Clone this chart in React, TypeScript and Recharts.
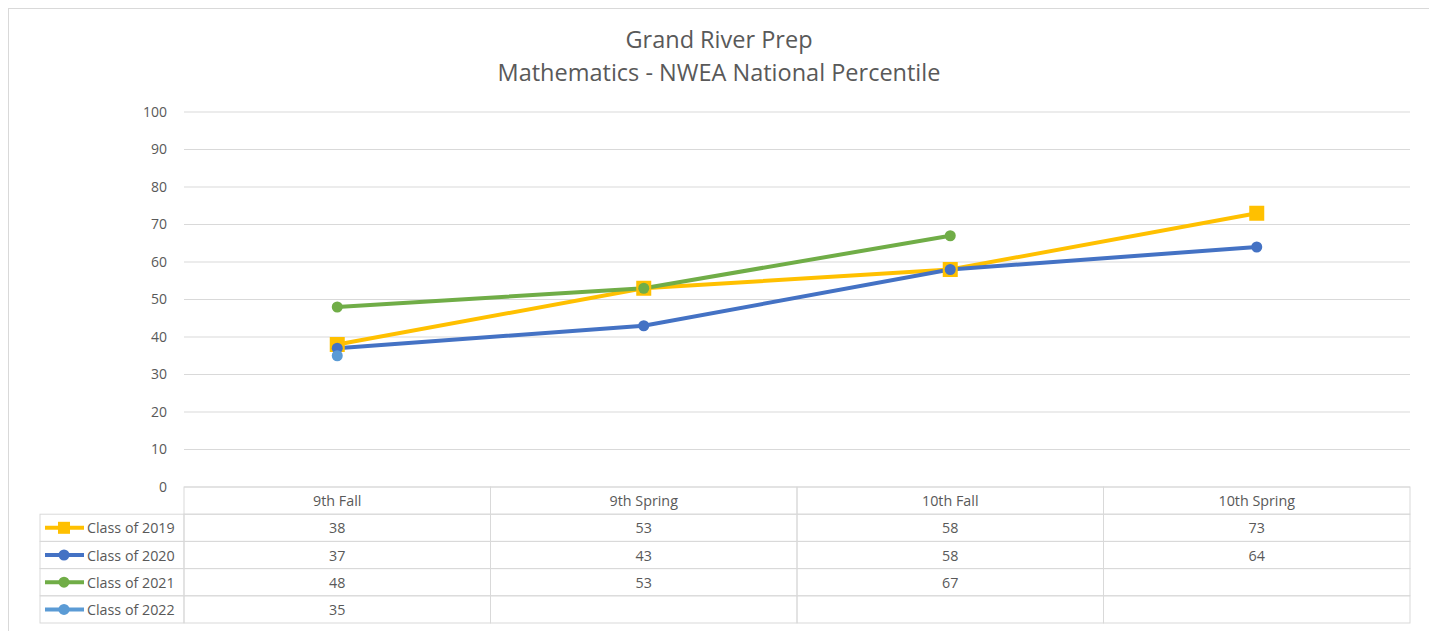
import React from "react";
import { LineChart, Line, CartesianGrid, XAxis, YAxis } from "recharts";

const terms = ["9th Fall", "9th Spring", "10th Fall", "10th Spring"];
const class2019 = [38, 53, 58, 73];
const class2020 = [37, 43, 58, 64];
const class2021 = [48, 53, 67, null];
const class2022 = [35, null, null, null];
const yTicks = [0, 10, 20, 30, 40, 50, 60, 70, 80, 90, 100];

const series = [
  { key: "c2019", name: "Class of 2019", values: class2019, color: "#FFC000", square: true },
  { key: "c2020", name: "Class of 2020", values: class2020, color: "#4472C4", square: false },
  { key: "c2021", name: "Class of 2021", values: class2021, color: "#70AD47", square: false },
  { key: "c2022", name: "Class of 2022", values: class2022, color: "#5B9BD5", square: false },
];

const data = terms.map((term, i) => {
  const row: any = { term };
  series.forEach((s) => {
    row[s.key] = s.values[i];
  });
  return row;
});

const W = 1420;
const H = 620;
const Y_AXIS_W = 175;
const MARGIN_RIGHT = 19;
const COL_W = (W - Y_AXIS_W - MARGIN_RIGHT) / terms.length;
const ROW_H = 27.2;
const LEG_W = 144;
const GRID = "#d9d9d9";
const TEXT = "#595959";
const FONT = "'Open Sans', sans-serif";

const SquareDot = (props: any) => {
  const { cx, cy, stroke } = props;
  if (cx == null || cy == null) return null;
  return <rect x={cx - 7.5} y={cy - 7.5} width={15} height={15} fill={stroke} />;
};

// one column of the data table per category tick; first tick also draws the legend column
const TableTick = (props: any) => {
  const { x, y, payload, index } = props;
  const left = x - COL_W / 2;
  return (
    <g fontFamily={FONT} fontSize={14.3} fill={TEXT}>
      <rect x={left} y={y} width={COL_W} height={ROW_H} fill="none" stroke={GRID} />
      <text x={x} y={y + ROW_H / 2} textAnchor="middle" dominantBaseline="central" fill={TEXT}>
        {payload.value}
      </text>
      {series.map((s, i) => {
        const v = s.values[index];
        const ry = y + (i + 1) * ROW_H;
        return (
          <g key={s.key}>
            <rect x={left} y={ry} width={COL_W} height={ROW_H} fill="none" stroke={GRID} />
            {v != null && (
              <text x={x} y={ry + ROW_H / 2} textAnchor="middle" dominantBaseline="central" fill={TEXT}>
                {v}
              </text>
            )}
          </g>
        );
      })}
      {index === 0 &&
        series.map((s, i) => {
          const ry = y + (i + 1) * ROW_H;
          const lx = left - LEG_W;
          const cy = ry + ROW_H / 2;
          return (
            <g key={"leg" + s.key}>
              <rect x={lx} y={ry} width={LEG_W} height={ROW_H} fill="none" stroke={GRID} />
              <line x1={lx + 5} x2={lx + 44} y1={cy} y2={cy} stroke={s.color} strokeWidth={4} />
              {s.square ? (
                <rect x={lx + 18} y={cy - 6} width={12} height={12} fill={s.color} />
              ) : (
                <circle cx={lx + 24} cy={cy} r={5.5} fill={s.color} />
              )}
              <text x={lx + 47} y={cy} dominantBaseline="central" fill={TEXT}>
                {s.name}
              </text>
            </g>
          );
        })}
    </g>
  );
};

export default function App() {
  return (
    <div
      style={{
        position: "relative",
        width: W,
        height: 625,
        border: "1px solid #d9d9d9",
        background: "#fff",
      }}
    >
      <div
        style={{
          position: "absolute",
          top: 14,
          left: 0,
          width: W,
          textAlign: "center",
          fontFamily: FONT,
          fontSize: 23.5,
          color: TEXT,
          lineHeight: "33px",
        }}
      >
        <div>Grand River Prep</div>
        <div>Mathematics - NWEA National Percentile</div>
      </div>
      <LineChart
        width={W}
        height={H}
        data={data}
        margin={{ top: 103, right: MARGIN_RIGHT, left: 0, bottom: 0 }}
      >
        <CartesianGrid horizontal vertical={false} stroke={GRID} />
        <XAxis
          dataKey="term"
          height={142}
          axisLine={false}
          tickLine={false}
          tickSize={0}
          tickMargin={0}
          interval={0}
          padding={{ left: COL_W / 2, right: COL_W / 2 }}
          tick={<TableTick />}
        />
        <YAxis
          width={Y_AXIS_W}
          domain={[0, 100]}
          ticks={yTicks}
          axisLine={false}
          tickLine={false}
          tickSize={0}
          tickMargin={17}
          tick={{ fill: TEXT, fontSize: 14, fontFamily: FONT }}
        />
        {series.map((s) => (
          <Line
            key={s.key}
            dataKey={s.key}
            name={s.name}
            stroke={s.color}
            strokeWidth={4}
            type="linear"
            connectNulls={false}
            isAnimationActive={false}
            dot={s.square ? <SquareDot /> : { r: 5.5, fill: s.color, stroke: s.color, strokeWidth: 0 }}
            activeDot={false}
          />
        ))}
      </LineChart>
    </div>
  );
}
